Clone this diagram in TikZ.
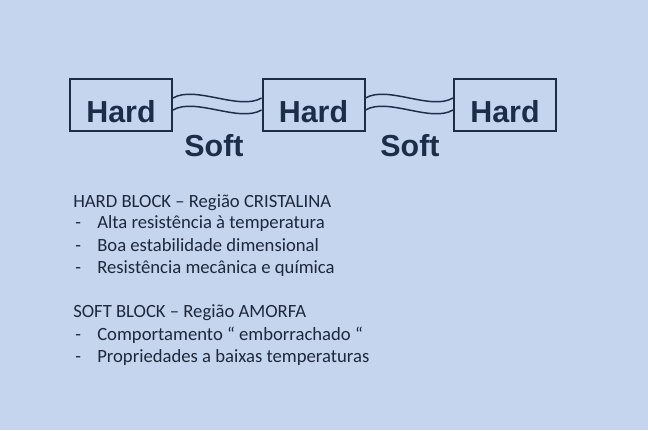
\documentclass[tikz,border=0pt]{standalone}
\usepackage{fontspec}
\setmainfont{Carlito}
\newfontfamily\blockfont{Liberation Sans}
\usepackage{tikz}
\usepackage{xcolor}
\usetikzlibrary{positioning}
\definecolor{sbback}{RGB}{197,213,238}
\definecolor{sbnavy}{RGB}{28,45,72}
\definecolor{sbtext}{RGB}{30,40,58}
\tikzset{
  sbhard/.style={draw=sbnavy, line width=1.5pt, text=sbnavy, font=\blockfont\bfseries\fontsize{22.8}{26}\selectfont,
    minimum width=76.5pt, inner xsep=0pt, inner ysep=0pt, text height=32.5pt, text depth=6.5pt},
  sbsoft/.style={text=sbnavy, font=\blockfont\bfseries\fontsize{22.8}{26}\selectfont, anchor=base},
  sbchain/.style={draw=sbnavy, line width=1.1pt},
  sbhead/.style={text=sbtext, font=\fontsize{14}{17}\selectfont, anchor=base west, inner sep=0pt},
  sbitem/.style={sbhead}
}
\begin{document}
\begin{tikzpicture}[x=0.75pt, y=-0.75pt]
  \fill[sbback] (0,0) rectangle (648,430);
  \useasboundingbox (0,0) rectangle (648,430);
  % chain of blocks
  \node[sbhard] (h1) at (121,105) {Hard};
  \node[sbhard] (h2) at (313.5,105) {Hard};
  \node[sbhard] (h3) at (505,105) {Hard};
  \node[sbsoft] (s1) at (214,156) {Soft};
  \node[sbsoft] (s2) at (410,156) {Soft};
  \foreach \a/\b in {h1/h2,h2/h3} {
    \draw[sbchain] ([yshift=-15pt]\a.north east) .. controls +(22,-13) and +(-22,13) .. ([yshift=-15pt]\b.north west);
    \draw[sbchain] ([yshift=-24pt]\a.north east) .. controls +(22,-13) and +(-22,13) .. ([yshift=-24pt]\b.north west);
  }
  % properties
  \node[sbhead] (hh) at (73,207) {HARD BLOCK – Região CRISTALINA};
  \foreach \y/\n/\t in {228.5/ha/Alta resistência à temperatura,251/hb/Boa estabilidade dimensional,273/hc/Resistência mecânica e química,340/sa/Comportamento “ emborrachado “,362/sb/Propriedades a baixas temperaturas} {
    \node[sbitem] (d\n) at (75,\y) {-};
    \node[sbitem] (\n) at (97,\y) {\t};
  }
  \node[sbhead] (sh) at (73,317.5) {SOFT BLOCK – Região AMORFA};
\end{tikzpicture}
\end{document}
